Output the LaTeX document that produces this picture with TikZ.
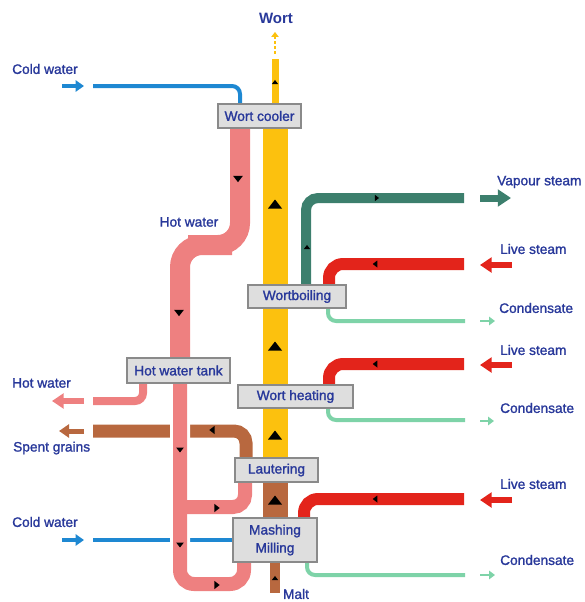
\documentclass[tikz,border=0pt]{standalone}
\usepackage{fontspec}
\setmainfont{Liberation Sans}
\newfontfamily\lblfont{Liberation Sans}[FakeBold=1.4]
\usetikzlibrary{arrows.meta,calc,backgrounds}
\definecolor{wpink}{HTML}{EE8080}
\definecolor{wyel}{HTML}{FCC10E}
\definecolor{wbrown}{HTML}{B8683F}
\definecolor{wteal}{HTML}{3C7F6D}
\definecolor{wred}{HTML}{E3241B}
\definecolor{wcond}{HTML}{7ED3A8}
\definecolor{wblue}{HTML}{1E88D2}
\definecolor{txtblue}{HTML}{28389A}
\definecolor{boxfill}{HTML}{DEDEDE}
\definecolor{boxline}{HTML}{8A8A8A}
\newcommand{\flw}[4]{\fill[shift={(#1,#2)},rotate=#3,scale=#4] (0,-4.5) -- (-7,4.5) -- (7,4.5) -- cycle;}

\begin{document}
\begin{tikzpicture}[x=1pt,y=-1pt,
  lbl/.style={text=txtblue,font=\lblfont\fontsize{13.7}{16}\selectfont,inner sep=0pt},
  box/.style={lbl,draw=boxline,fill=boxfill,line width=1.3pt},
  pipe/.style={line width=#1,rounded corners=10},
  flowarr/.style={line width=#1,-{Triangle[length=2pt 1.6,width=4pt 1.8]}}]
  \useasboundingbox (0,0) rectangle (585,602);
  \node[box,minimum width=83,minimum height=24] (cooler) at (259.5,116) {Wort cooler};
  \node[box,minimum width=98,minimum height=23] (boiling) at (297,296.5) {Wortboiling};
  \node[box,minimum width=115,minimum height=23] (heating) at (295.5,396.5) {Wort heating};
  \node[box,minimum width=103,minimum height=25] (tank) at (178.5,370.5) {Hot water tank};
  \node[box,minimum width=83,minimum height=24] (lauter) at (276.5,470) {Lautering};
  \node[box,minimum width=84,minimum height=44,align=center,
    font=\lblfont\fontsize{13.7}{18}\selectfont] (mash) at (275,540) {Mashing\\Milling};
  \node[lbl,font=\fontsize{15}{18}\selectfont\bfseries] (wort) at (276,18) {Wort};
  \node[lbl,anchor=west] (cw1) at (12,69) {Cold water};
  \node[lbl] (hw1) at (189,222) {Hot water};
  \node[lbl,anchor=west] (vap) at (497,182) {Vapour steam};
  \node[lbl,anchor=west] (live1) at (500,249) {Live steam};
  \node[lbl,anchor=west] (cond1) at (499,308) {Condensate};
  \node[lbl,anchor=west] (live2) at (500,350) {Live steam};
  \node[lbl,anchor=west] (cond2) at (500,408) {Condensate};
  \node[lbl,anchor=west] (hw2) at (12,383) {Hot water};
  \node[lbl,anchor=west] (spent) at (13,448) {Spent grains};
  \node[lbl,anchor=west] (live3) at (500,484) {Live steam};
  \node[lbl,anchor=west] (cw2) at (12,522) {Cold water};
  \node[lbl,anchor=west] (cond3) at (500,560) {Condensate};
  \node[lbl] (maltlbl) at (296,594) {Malt};
  \coordinate (cwa) at (93,86);
  \coordinate (cwa1) at (62,86);
  \coordinate (cwa2) at (84,86);
  \coordinate (wtop) at (275,59);
  \coordinate (wd1) at (275,54);
  \coordinate (wd2) at (275,32);
  \coordinate (malt) at (275,593);
  \coordinate (hwbend) at (210,245);
  \coordinate (hwo) at (93,401);
  \coordinate (hwa1) at (84,401);
  \coordinate (hwa2) at (52,401);
  \coordinate (sg) at (93,431);
  \coordinate (sga1) at (84,431);
  \coordinate (sga2) at (59,431);
  \coordinate (cwb) at (93,540);
  \coordinate (cwb1) at (62,540);
  \coordinate (cwb2) at (84,540);
  \coordinate (pkb) at (210,584);
  \coordinate (pkc) at (180,507);
  \coordinate (vs) at (464,198);
  \coordinate (vsa1) at (480,198);
  \coordinate (vsa2) at (511,198);
  \coordinate (ls1) at (464,264);
  \coordinate (ls2) at (464,364);
  \coordinate (ls3) at (464,499);
  \coordinate (cd1) at (465,321);
  \coordinate (cd2) at (465,420);
  \coordinate (cd3) at (465,575);
  \begin{pgfonlayer}{background}
    \draw[pipe=4,wblue,rounded corners=8] (cwa) -| ($(cooler.center)+(-19.5,0)$);
    \draw[pipe=25,wyel] (cooler.center -| malt) -- (lauter.center -| malt);
    \draw[pipe=7,wyel] (cooler.center -| malt) -- (wtop);
    \draw[pipe=25,wbrown] (lauter.center -| malt) -- (mash.center);
    \draw[pipe=10,wbrown] (mash.center) -- (malt);
    \draw[pipe=13,wbrown,rounded corners=12] ($(lauter.center)+(-30.5,0)$) |- (sg);
    \draw[pipe=20,wpink,rounded corners=22] ($(cooler.center)+(-19.5,0)$) |- (hwbend) -| ($(tank.center)+(1.5,0)$);
    \draw[pipe=8,wpink,rounded corners=8] ($(tank.center)+(-35.5,0)$) |- (hwo);
    \draw[pipe=4,wblue] (cwb) -- (mash.west);
    \draw[pipe=14,wpink,rounded corners=14,preaction={draw=white,line width=20}]
      ($(tank.center)+(1.5,0)$) |- (pkb) -| ($(mash.center)+(-31,0)$);
    \draw[pipe=14,wpink,rounded corners=12] (pkc) -| ($(lauter.center)+(-31.5,0)$);
    \draw[pipe=10,wteal,rounded corners=12] ($(boiling.center)+(9,0)$) |- (vs);
    \draw[pipe=12,wred,rounded corners=14] (ls1) -| ($(boiling.center)+(32,0)$);
    \draw[pipe=4,wcond,rounded corners=8] ($(boiling.center)+(31,0)$) |- (cd1);
    \draw[pipe=12,wred,rounded corners=14] (ls2) -| ($(heating.center)+(33.5,0)$);
    \draw[pipe=4,wcond,rounded corners=8] ($(heating.center)+(32.5,0)$) |- (cd2);
    \draw[pipe=12,wred,rounded corners=14] (ls3) -| ($(mash.center)+(29,0)$);
    \draw[pipe=4,wcond,rounded corners=8] ($(mash.center)+(32,0)$) |- (cd3);
  \end{pgfonlayer}
  \draw[flowarr=4,wblue] (cwa1) -- (cwa2);
  \draw[flowarr=4,wblue] (cwb1) -- (cwb2);
  \draw[flowarr=1.8,wyel,dashed,dash pattern=on 3pt off 2pt] (wd1) -- (wd2);
  \draw[flowarr=6,wpink] (hwa1) -- (hwa2);
  \draw[flowarr=5,wbrown] (sga1) -- (sga2);
  \draw[flowarr=7,wteal] (vsa1) -- (vsa2);
  \draw[flowarr=6,wred] (512,265) coordinate (ra1) -- (480,265) coordinate (ra2);
  \draw[flowarr=6,wred] (512,365) coordinate (rb1) -- (480,365) coordinate (rb2);
  \draw[flowarr=6,wred] (512,500) coordinate (rc1) -- (480,500) coordinate (rc2);
  \draw[flowarr=2.5,wcond] (480,321) coordinate (ca1) -- (495,321) coordinate (ca2);
  \draw[flowarr=2.5,wcond] (480,421) coordinate (cb1) -- (494,421) coordinate (cb2);
  \draw[flowarr=2.5,wcond] (480,575) coordinate (cc1) -- (495,575) coordinate (cc2);
  \flw{275}{82}{0}{0.45}
  \flw{275}{204}{0}{1}
  \flw{275}{346}{0}{1}
  \flw{275}{435}{0}{1}
  \flw{275}{500}{0}{1}
  \flw{275}{578}{0}{0.45}
  \flw{238}{179}{180}{0.7}
  \flw{179}{313}{180}{0.7}
  \flw{180}{450}{180}{0.55}
  \flw{180}{545}{180}{0.55}
  \flw{217}{508}{-90}{0.6}
  \flw{217}{585}{-90}{0.6}
  \flw{212}{430}{90}{0.6}
  \flw{307}{247}{0}{0.45}
  \flw{377}{198}{-90}{0.45}
  \flw{375}{264}{90}{0.5}
  \flw{375}{364}{90}{0.5}
  \flw{375}{499}{90}{0.5}
\end{tikzpicture}
\end{document}
